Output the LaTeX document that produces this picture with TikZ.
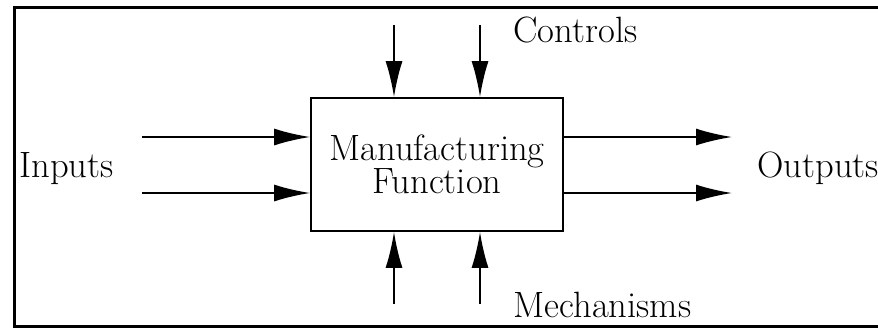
\documentclass[tikz,border=0pt]{standalone}
\usepackage{tikz}
\usetikzlibrary{arrows.meta, positioning}

\begin{document}
\begin{tikzpicture}[x=0.5pt,y=-0.5pt,
    flow/.style={line width=0.9pt,-{Latex[length=18pt,width=8.5pt]}},
    fnbox/.style={draw,line width=0.9pt,minimum width=126pt,minimum height=66.5pt,inner sep=0pt,align=center,font=\fontsize{18.3}{16.5}\selectfont},
    lbl/.style={inner sep=0pt,font=\fontsize{18.3}{20}\selectfont}]
    \useasboundingbox (0,0) rectangle (878,328);
    \draw[line width=1.5pt] (14,7) rectangle (884,326.5);
    \node[fnbox] (mf) at (437,164.5) {Manufacturing\\Function};
    \coordinate (in1) at (142,137);
    \coordinate (in2) at (142,193);
    \coordinate (out1) at (732,137);
    \coordinate (out2) at (732,193);
    \coordinate (ctl1) at (394,25);
    \coordinate (ctl2) at (480,25);
    \coordinate (mech1) at (394,304);
    \coordinate (mech2) at (480,304);
    \draw[flow] (in1) -- (in1 -| mf.west);
    \draw[flow] (in2) -- (in2 -| mf.west);
    \draw[flow] (out1 -| mf.east) -- (out1);
    \draw[flow] (out2 -| mf.east) -- (out2);
    \draw[flow] (ctl1) -- (ctl1 |- mf.north);
    \draw[flow] (ctl2) -- (ctl2 |- mf.north);
    \draw[flow] (mech1) -- (mech1 |- mf.south);
    \draw[flow] (mech2) -- (mech2 |- mf.south);
    \node[lbl,anchor=base west] (inputs) at (19,177) {Inputs};
    \node[lbl,anchor=base west] (outputs) at (757,177) {Outputs};
    \node[lbl,anchor=base west] (controls) at (513,42) {Controls};
    \node[lbl,anchor=base west] (mechanisms) at (513,317) {Mechanisms};
\end{tikzpicture}
\end{document}
